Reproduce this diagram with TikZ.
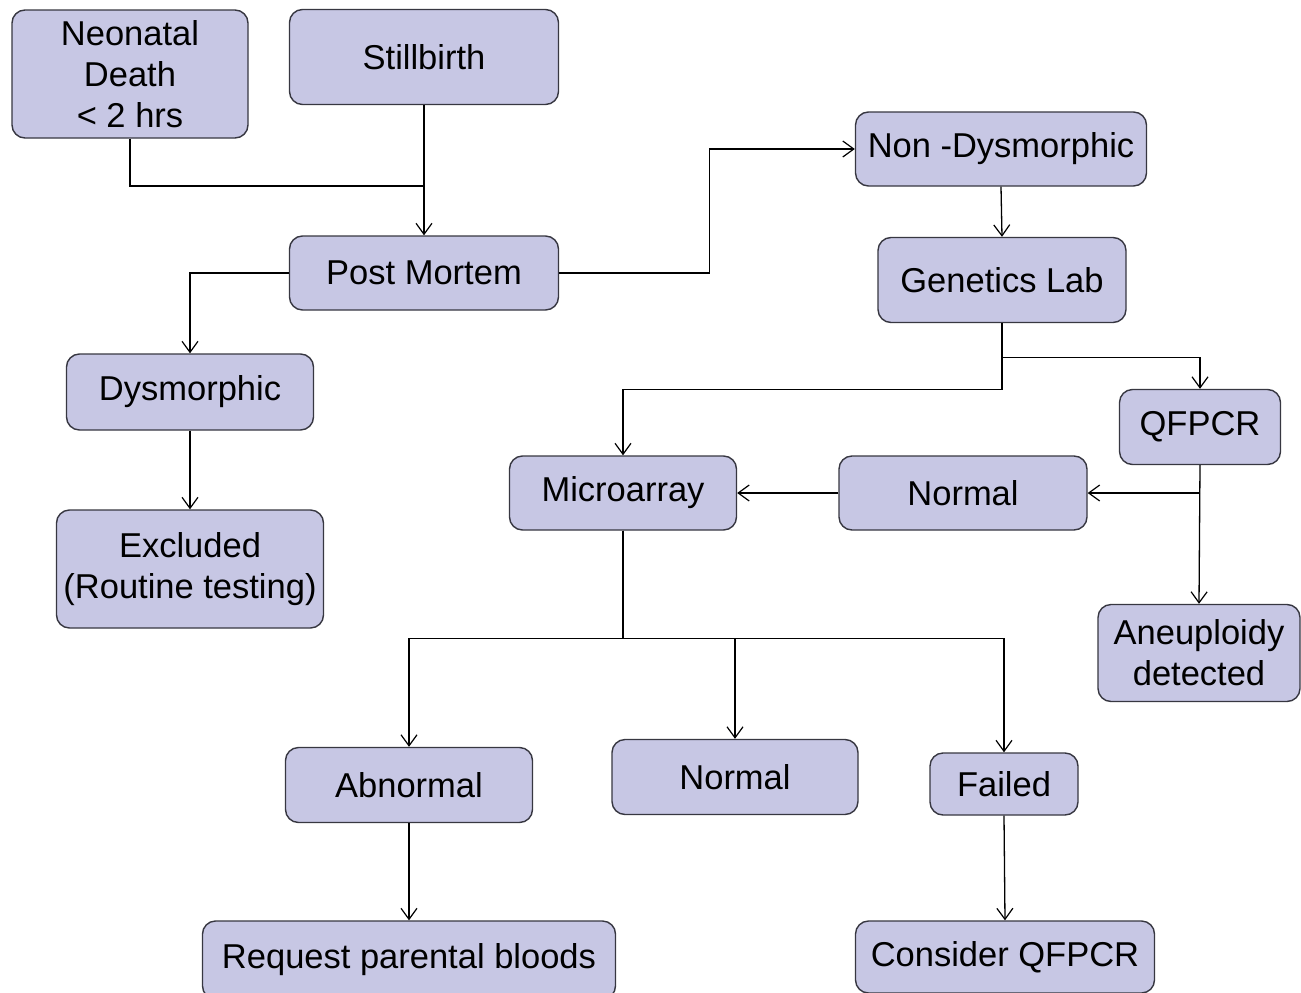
\documentclass[tikz,border=0pt]{standalone}
\usepackage{fontspec}
\setmainfont{Liberation Sans}
\usetikzlibrary{arrows.meta}
\definecolor{boxfill}{RGB}{199,199,228}
\definecolor{boxline}{RGB}{55,55,65}
\begin{document}
\begin{tikzpicture}[x=1pt,y=-1pt,line width=1.3pt,
    stage/.style={draw=boxline,fill=boxfill,line width=1.4pt,rounded corners=13pt,
      inner sep=0pt,align=center,font=\fontsize{34.5}{41}\selectfont},
    ->/.style={-{Straight Barb[length=11pt,width=16pt,line width=1.2pt]}}]
    \clip (0,0) rectangle (1301,993);

    \path ( 130, 74) node [stage,minimum width=236pt,minimum height=128pt] (neo)    {Neonatal\\Death\\< 2 hrs};
    \path ( 424, 57) node [stage,minimum width=269pt,minimum height=95pt]  (still)  {Stillbirth};
    \path ( 424,273) node [stage,minimum width=269pt,minimum height=74pt]  (post)   {Post Mortem};
    \path (1001,149) node [stage,minimum width=291pt,minimum height=74pt]  (nondys) {Non -Dysmorphic};
    \path (1002,280) node [stage,minimum width=248pt,minimum height=85pt]  (gen)    {Genetics Lab};
    \path ( 190,392) node [stage,minimum width=247pt,minimum height=76pt]  (dys)    {Dysmorphic};
    \path ( 190,569) node [stage,minimum width=267pt,minimum height=118pt] (excl)   {Excluded\\(Routine testing)};
    \path (1200,427) node [stage,minimum width=161pt,minimum height=75pt]  (qf)     {QFPCR};
    \path ( 623,493) node [stage,minimum width=227pt,minimum height=74pt]  (micro)  {Microarray};
    \path ( 963,493) node [stage,minimum width=248pt,minimum height=74pt]  (norm1)  {Normal};
    \path (1199,653) node [stage,minimum width=202pt,minimum height=97pt]  (aneu)   {Aneuploidy\\detected};
    \path ( 409,785) node [stage,minimum width=247pt,minimum height=75pt]  (abn)    {Abnormal};
    \path ( 735,777) node [stage,minimum width=246pt,minimum height=75pt]  (norm2)  {Normal};
    \path (1004,784) node [stage,minimum width=148pt,minimum height=62pt]  (fail)   {Failed};
    \path ( 409,960) node [stage,minimum width=413pt,minimum height=78pt]  (req)    {Request parental bloods};
    \path (1005,957) node [stage,minimum width=299pt,minimum height=72pt]  (cons)   {Consider QFPCR};

    % top inputs
    \coordinate (join) at (424,186);
    \draw (neo.south) |- (join);
    \draw [->] (still.south) -- (post.north);

    % post mortem
    \draw [->] (post.west) -| (dys.north);
    \draw [->] (dys.south) -- (excl.north);
    \draw [->] (post.east) -- ++(150,0) |- (nondys.west);
    \draw [->] (nondys.south) -- (gen.north);

    % genetics lab
    \draw [->] (gen.south) -- ++(0,34) -| (qf.north);
    \draw [->] (gen.south) -- ++(0,66) -| (micro.north);
    \draw [->] (qf.south) -- (aneu.north);
    \draw [->] (qf.south |- norm1.east) -- (norm1.east);
    \draw [->] (norm1.west) -- (micro.east);

    % microarray results
    \draw [->] (micro.south) -- ++(0,108) -| (abn.north);
    \draw [->] (micro.south) -- ++(0,108) -| (norm2.north);
    \draw [->] (micro.south) -- ++(0,108) -| (fail.north);
    \draw [->] (abn.south) -- (req.north);
    \draw [->] (fail.south) -- (cons.north);
\end{tikzpicture}
\end{document}
